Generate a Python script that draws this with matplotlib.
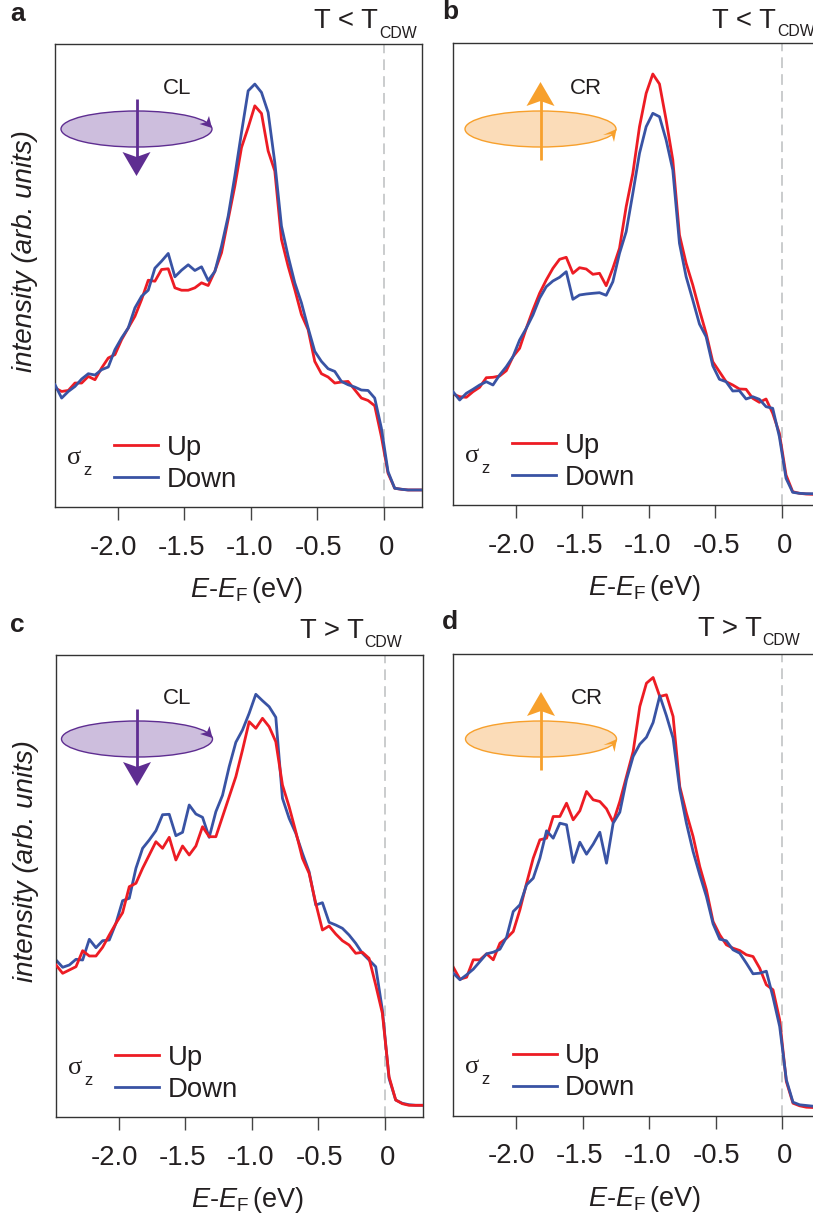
import matplotlib
matplotlib.use('Agg')

import matplotlib.pyplot as plt
from matplotlib.patches import Ellipse, Polygon
from matplotlib.transforms import ScaledTranslation

plt.rcParams['font.family'] = ['Liberation Sans', 'DejaVu Sans']
plt.rcParams['mathtext.fontset'] = 'custom'
plt.rcParams['mathtext.rm'] = 'Liberation Sans'
plt.rcParams['mathtext.it'] = 'Liberation Sans:italic'
plt.rcParams['mathtext.bf'] = 'Liberation Sans:bold'

# Binding energy grid (eV), same for all panels
energy = [-2.47, -2.42, -2.37, -2.32, -2.27, -2.22, -2.17, -2.12, -2.07, -2.02, -1.97, -1.92, -1.87, -1.82,
          -1.77, -1.72, -1.67, -1.62, -1.57, -1.52, -1.47, -1.42, -1.37, -1.32, -1.27, -1.22, -1.17, -1.12,
          -1.07, -1.02, -0.97, -0.92, -0.87, -0.82, -0.77, -0.72, -0.67, -0.62, -0.57, -0.52, -0.47, -0.42,
          -0.37, -0.32, -0.27, -0.22, -0.17, -0.12, -0.07, -0.02, 0.03, 0.08, 0.13, 0.18, 0.23, 0.28]

# Intensities, arbitrary units
a_up = [118.7, 115.3, 116.3, 123.7, 123.7, 130.3, 127.0, 138.7, 148.7, 152.0, 167.0, 178.7, 190.3, 207.0,
        226.3, 225.3, 237.0, 237.7, 218.7, 216.3, 216.3, 218.7, 223.7, 221.0, 235.3, 253.7, 287.0, 320.3,
        358.7, 378.7, 400.3, 392.7, 355.3, 335.3, 267.0, 240.3, 217.0, 192.0, 177.0, 145.3, 133.0, 129.7,
        123.7, 124.7, 125.3, 117.0, 108.7, 106.3, 101.0, 70.3, 33.7, 18.7, 17.7, 17.0, 17.0, 17.0]
a_down = [122.0, 108.7, 115.3, 120.3, 127.7, 133.0, 131.7, 137.0, 139.7, 157.0, 168.7, 178.7, 198.7, 210.3,
          216.3, 238.3, 245.3, 253.0, 229.7, 236.3, 241.7, 236.0, 239.7, 226.0, 235.0, 260.3, 290.3, 330.3,
          373.7, 415.3, 422.0, 413.7, 393.7, 343.7, 280.3, 250.3, 223.7, 203.7, 178.7, 155.3, 145.3, 138.0,
          135.3, 125.3, 122.0, 119.7, 116.7, 116.3, 108.7, 78.7, 35.3, 18.7, 17.7, 17.0, 17.0, 17.0]
b_up = [111.0, 108.3, 107.7, 113.3, 117.7, 127.3, 127.7, 129.0, 134.3, 148.3, 156.7, 176.7, 195.0, 211.7,
        225.0, 236.7, 245.7, 247.7, 231.7, 237.3, 236.0, 230.7, 231.7, 219.3, 236.7, 256.7, 298.3, 331.7,
        378.3, 411.7, 431.0, 421.0, 385.0, 345.0, 270.0, 241.7, 220.0, 195.0, 171.7, 143.3, 133.3, 123.3,
        120.0, 116.0, 115.7, 106.7, 102.7, 106.0, 91.7, 71.7, 30.0, 13.3, 11.7, 11.0, 10.7, 10.7]
b_down = [113.3, 105.0, 111.7, 115.7, 120.0, 123.3, 120.0, 130.0, 138.3, 148.3, 165.0, 176.7, 190.0, 206.7,
          218.3, 224.0, 227.7, 233.3, 205.7, 210.0, 211.0, 211.7, 212.3, 209.7, 223.3, 251.7, 273.3, 311.7,
          351.7, 378.3, 391.7, 388.3, 365.0, 335.0, 261.7, 228.3, 205.0, 181.0, 168.3, 139.3, 125.7, 123.3,
          114.0, 114.3, 106.0, 108.3, 105.7, 98.3, 96.7, 68.3, 26.7, 12.7, 11.7, 11.3, 11.3, 11.3]
c_up = [152.0, 143.7, 147.0, 150.3, 166.3, 161.0, 161.0, 169.7, 182.0, 193.7, 204.3, 230.3, 233.7, 248.7,
        262.0, 275.3, 268.7, 279.7, 257.0, 271.0, 262.0, 271.0, 290.3, 280.3, 280.3, 300.3, 320.3, 340.3,
        367.0, 395.3, 388.7, 398.7, 390.3, 375.3, 332.0, 310.3, 285.3, 258.7, 243.7, 213.7, 187.0, 191.0,
        183.0, 176.3, 172.0, 163.7, 164.7, 158.7, 132.0, 103.7, 40.3, 17.0, 13.3, 11.7, 11.7, 11.7]
c_down = [157.0, 149.7, 152.0, 157.7, 157.0, 177.7, 169.3, 176.3, 177.0, 193.7, 216.3, 218.7, 248.7, 268.7,
          277.0, 286.3, 302.3, 302.7, 281.3, 284.7, 312.0, 303.0, 299.7, 279.7, 305.3, 321.7, 350.3, 374.7,
          387.0, 403.7, 422.7, 416.3, 410.3, 399.7, 318.7, 298.7, 283.7, 263.7, 245.3, 212.0, 214.3, 194.7,
          192.0, 188.7, 182.0, 173.7, 163.7, 157.0, 150.3, 107.0, 38.7, 17.0, 13.7, 12.3, 11.7, 11.7]
d_up = [148.3, 136.3, 138.3, 155.7, 155.7, 161.7, 155.7, 172.3, 177.3, 184.0, 205.7, 232.3, 257.3, 275.7,
        277.3, 299.0, 299.0, 312.3, 295.7, 304.7, 324.0, 315.7, 314.0, 306.7, 293.3, 314.0, 339.0, 364.0,
        409.0, 432.3, 438.0, 419.0, 420.7, 399.0, 329.0, 302.3, 279.0, 249.0, 225.7, 194.0, 180.7, 170.7,
        167.3, 165.0, 160.7, 159.0, 147.3, 130.7, 125.7, 95.7, 34.0, 12.3, 9.7, 8.3, 8.0, 9.0]
d_down = [142.3, 135.7, 140.7, 146.3, 154.0, 161.7, 163.3, 166.3, 178.3, 204.0, 210.7, 230.7, 237.3, 257.3,
          284.7, 277.3, 292.3, 290.7, 253.0, 273.3, 261.3, 271.3, 283.3, 252.3, 292.3, 303.3, 335.7, 359.0,
          371.3, 378.3, 393.0, 419.7, 399.7, 377.3, 325.7, 292.3, 264.0, 240.7, 219.0, 191.7, 176.3, 174.7,
          165.7, 162.3, 152.3, 141.7, 142.3, 144.3, 118.3, 89.0, 35.7, 13.3, 10.7, 10.0, 9.3, 9.0]

tick_pos = [-2.0, -1.5, -1.0, -0.5, 0]
tick_labels = ['-2.0', '-1.5', '-1.0', '-0.5', '0']
# The labels in the original sit a little off their ticks (pixels)
tick_label_shift = [-4.5, -3, -1.5, 1, 2.5]

RED = '#ed1c24'
BLUE = '#3953a4'
INK = '#231f20'
W, H = 813, 1224

fig = plt.figure(figsize=(W / 100, H / 100), dpi=100)


def panel(box, up, down, up_on_top, letter, letter_xy, temp, temp_xy, cdw_xy, ylabel):
    left, top, right, bottom = box
    ax = fig.add_axes([left / W, 1 - bottom / H, (right - left) / W, (bottom - top) / H])
    ax.set_xlim(-2.47, 0.285)
    ax.set_ylim(0, 462)
    ax.axvline(0, color='#bcbec0', lw=1.1, dashes=(7, 4), zorder=1)
    line_up, = ax.plot(energy, up, color=RED, lw=2.0, label='Up', zorder=3 if up_on_top else 2)
    line_down, = ax.plot(energy, down, color=BLUE, lw=2.0, label='Down', zorder=2 if up_on_top else 3)
    ax.set_xticks(tick_pos)
    ax.set_xticklabels(tick_labels, fontsize=19.8, color=INK)
    ax.set_yticks([])
    ax.tick_params(axis='x', length=9.5, width=1, color='#444444', pad=10.5)
    for lab, shift in zip(ax.get_xticklabels(), tick_label_shift):
        lab.set_transform(lab.get_transform() + ScaledTranslation(shift / 100, 0, fig.dpi_scale_trans))
    for s in ax.spines.values():
        s.set_linewidth(1.0)
        s.set_color('#333333')
    ax.set_xlabel(r'$\mathit{E}$-$\mathit{E}_{\mathrm{F}}\,$(eV)', fontsize=19.5, color=INK, va='center')
    ax.xaxis.set_label_coords(0.522, -0.18)
    if ylabel:
        ax.set_ylabel('intensity (arb. units)', fontsize=20, style='italic', color=INK, va='center')
        ax.yaxis.set_label_coords(-0.081, 0.553)
    ax.legend(handles=[line_up, line_down], loc='lower left', bbox_to_anchor=(0.162, 0.031), frameon=False,
              fontsize=19.8, handlelength=1.6, handletextpad=0.3, labelspacing=0.22, borderpad=0, borderaxespad=0,
              labelcolor=INK)
    ax.text(0.032, 0.105, '\u03c3', transform=ax.transAxes, fontsize=19, family='Liberation Serif', color=INK,
            ha='left', va='center')
    ax.text(0.076, 0.078, 'z', transform=ax.transAxes, fontsize=12, color=INK, ha='left', va='center')
    over.text(letter_xy[0], letter_xy[1], letter, fontsize=19, fontweight='bold', color=INK, ha='left', va='baseline')
    over.text(temp_xy[0], temp_xy[1], temp, fontsize=19.8, color=INK, ha='left', va='baseline')
    over.text(cdw_xy[0], cdw_xy[1], 'CDW', fontsize=11.4, color=INK, ha='left', va='baseline')
    return ax


def icon(cx, cy, kind):
    # Light helicity sketch: disc with a rotation arrow and a vertical propagation arrow
    if kind == 'CL':
        edge, fill = '#5e2d91', '#cdbedd'
    else:
        edge, fill = '#f7a02c', '#fbdcb8'
    over.add_patch(Ellipse((cx, cy), 151, 36, facecolor=fill, edgecolor=edge, lw=1.0))
    if kind == 'CL':
        over.plot([cx, cx], [cy - 30, cy + 30], color=edge, lw=2.0, solid_capstyle='butt')
        over.add_patch(Polygon([(cx, cy + 47), (cx - 14, cy + 23), (cx, cy + 28), (cx + 14, cy + 23)], color=edge, lw=0))
        over.add_patch(Polygon([(cx + 75.5, cy - 1), (cx + 63, cy - 5), (cx + 70, cy - 7), (cx + 72.5, cy - 13)], color=edge, lw=0))
        over.text(cx + 40.5, cy - 41, 'CL', fontsize=16, color=INK, ha='center', va='center')
    else:
        over.plot([cx, cx], [cy + 31, cy - 30], color=edge, lw=2.0, solid_capstyle='butt')
        over.add_patch(Polygon([(cx, cy - 47), (cx - 14, cy - 23), (cx, cy - 28), (cx + 14, cy - 23)], color=edge, lw=0))
        over.add_patch(Polygon([(cx + 76, cy), (cx + 62.5, cy + 6), (cx + 71, cy + 5), (cx + 73.5, cy + 13)], color=edge, lw=0))
        over.text(cx + 45.5, cy - 41, 'CR', fontsize=16, color=INK, ha='center', va='center')


# Transparent overlay in pixel coordinates for the sketches and the panel headings
over = fig.add_axes([0, 0, 1, 1], zorder=5)
over.set_xlim(0, W)
over.set_ylim(H, 0)
over.axis('off')

panel((55, 44, 422, 507), a_up, a_down, False, 'a', (10, 21), 'T < T', (314, 28), (379, 38), True)
panel((453, 43, 820, 505), b_up, b_down, False, 'b', (442, 19), 'T < T', (712, 28), (777, 36), False)
panel((56, 655, 423, 1117), c_up, c_down, True, 'c', (10, 632), 'T > T', (300, 638), (364, 647), True)
panel((453.3, 653.5, 820.3, 1115.5), d_up, d_down, False, 'd', (442, 629), 'T > T', (698, 636), (762, 645), False)

icon(136.5, 129, 'CL')
icon(540.5, 129, 'CR')
icon(137, 739, 'CL')
icon(541, 739, 'CR')

fig.savefig('out.png', dpi=100)
plt.close(fig)
